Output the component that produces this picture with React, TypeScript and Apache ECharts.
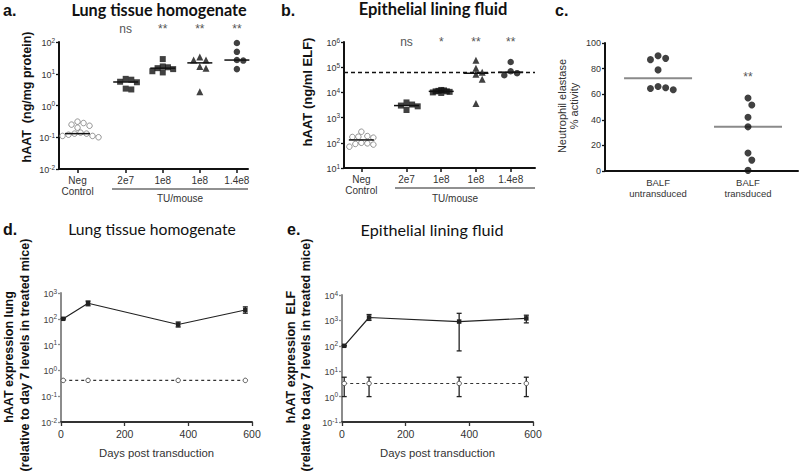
import React, { useEffect, useRef } from "react";
import * as echarts from "echarts";

// ---------------- data ----------------
const groupLabels = ["Neg\nControl", "2e7", "1e8", "1e8", "1.4e8"];

// a. lung tissue homogenate, hAAT (ng/mg protein)
const aNegControl = [0.31, 0.28, 0.25, 0.23, 0.2, 0.14, 0.13, 0.13, 0.12, 0.11, 0.11, 0.1, 0.1];
const a2e7 = [6.9, 6.5, 5.6, 5.4, 3.4, 3.2];
const a1e8Squares = [29, 17, 16, 15, 14, 12, 11];
const a1e8Triangles = [34, 27, 27, 17, 15, 2.7];
const a14e8 = [93, 49, 27, 26, 14];
const aStars = ["ns", "**", "**", "**"];

// b. epithelial lining fluid, hAAT (ng/ml ELF)
const bNegControl = [275, 185, 175, 170, 160, 100, 95, 90, 85, 70];
const b2e7 = [4000, 3300, 3000, 2800, 2000];
const b1e8Squares = [12500, 12000, 11500, 11000, 11000, 10500, 10000, 9500];
const b1e8Triangles = [190000, 90000, 63000, 52000, 33000, 3600];
const b14e8 = [160000, 69000, 58000, 48000];
const bStars = ["ns", "*", "**", "**"];
const bReference = 63000;

// c. neutrophil elastase % activity
const cCategories = ["BALF\nuntransduced", "BALF\ntransduced"];
const cUntransduced = [90, 88, 87, 79, 66, 65, 64.5, 63.5];
const cTransduced = [57, 51.5, 42, 34.5, 14, 8.5, 0.5];
const cStars = ["", "**"];

// d / e. time course
const days = [7, 85, 368, 579];
const dTreated = [100, 400, 60, 220];
const dTreatedLow = [100, 320, 48, 165];
const dTreatedHigh = [100, 490, 75, 290];
const dControl = [0.41, 0.41, 0.41, 0.41];
const eTreated = [100, 1300, 900, 1200];
const eTreatedLow = [100, 1000, 63, 800];
const eTreatedHigh = [100, 1700, 1900, 1600];
const eControl = [3.3, 3.3, 3.3, 3.3];
const eControlLow = [1, 1, 1, 1];
const eControlHigh = [5.8, 5.8, 5.8, 5.8];

// ---------------- layout / style ----------------
const GROUP_X = [0, 1.3, 2.3, 3.3, 4.3];
const C_X = [0, 1];
const FONT = "'Liberation Sans', Arial, sans-serif";
const TITLE_FONT = "Lato, 'Open Sans', sans-serif";

const median = (arr: number[]) => {
  const s = [...arr].sort((a, b) => a - b);
  const n = s.length;
  return n % 2 ? s[(n - 1) / 2] : (s[n / 2 - 1] + s[n / 2]) / 2;
};

function beeswarm(ys: number[], d: number): number[] {
  const order = ys.map((_, i) => i).sort((i, j) => ys[i] - ys[j]);
  const placed: { x: number; y: number }[] = [];
  const out = new Array(ys.length).fill(0);
  order.forEach((i) => {
    const y = ys[i];
    for (let k = 0; k < 60; k++) {
      const off = (k % 2 === 1 ? 1 : -1) * Math.ceil(k / 2) * (d / 2);
      if (placed.every((p) => (p.x - off) ** 2 + (p.y - y) ** 2 >= d * d * 0.9)) {
        out[i] = off + 0;
        placed.push({ x: off, y });
        break;
      }
    }
  });
  return out;
}

const logLabel = (v: number) => `{b|10}{s|${Math.round(Math.log10(v))}}`;
const logRich = (color: string) => ({
  b: { fontSize: 9, fontFamily: FONT, color, lineHeight: 11, verticalAlign: "bottom", padding: [4, 0, 0, 0] },
  s: { fontSize: 6.5, fontFamily: FONT, color, lineHeight: 8, verticalAlign: "top" },
});

const blackAxis = (w = 2) => ({ show: true, onZero: false, lineStyle: { color: "#111", width: w } });

const medianRender = (hw: number, color: string, lw: number) => (params: any, api: any) => {
  const p = api.coord([api.value(0), api.value(1)]);
  return {
    type: "line",
    shape: { x1: p[0] - hw, y1: p[1], x2: p[0] + hw, y2: p[1] },
    style: { stroke: color, lineWidth: lw },
  };
};

const errRender = (params: any, api: any) => {
  const x = api.value(0);
  const lo = api.coord([x, api.value(1)]);
  const hi = api.coord([x, api.value(2)]);
  const cw = 2.5;
  const st = { stroke: "#222", lineWidth: 1.3 };
  return {
    type: "group",
    children: [
      { type: "line", shape: { x1: lo[0], y1: lo[1], x2: hi[0], y2: hi[1] }, style: st },
      { type: "line", shape: { x1: lo[0] - cw, y1: lo[1], x2: lo[0] + cw, y2: lo[1] }, style: st },
      { type: "line", shape: { x1: hi[0] - cw, y1: hi[1], x2: hi[0] + cw, y2: hi[1] }, style: st },
    ],
  };
};

type Def = { id: string; grid: number; x: number; values: number[]; spacing: number };

export default function App() {
  const ref = useRef<HTMLDivElement>(null);

  useEffect(() => {
    const chart = echarts.init(ref.current!, null, { renderer: "svg" });

    const aGroups = [aNegControl, a2e7, a1e8Squares, a1e8Triangles, a14e8];
    const bGroups = [bNegControl, b2e7, b1e8Squares, b1e8Triangles, b14e8];
    const cGroups = [cUntransduced, cTransduced];
    const symbols = ["circle", "rect", "rect", "triangle", "circle"];
    const sizes = [5.5, 6, 6, 7, 6.5];
    const spacings = [
      [6, 5.6, 5.2, 6.2, 6.4],
      [6, 5.6, 2.8, 6.2, 6.4],
    ];

    const defs: Def[] = [];
    const series: any[] = [];

    [aGroups, bGroups].forEach((groups, p) => {
      groups.forEach((vals, g) => {
        const id = `pt-${p}-${g}`;
        defs.push({ id, grid: p, x: GROUP_X[g], values: vals, spacing: spacings[p][g] });
        series.push({
          id,
          type: "scatter",
          xAxisIndex: p,
          yAxisIndex: p,
          symbol: symbols[g],
          symbolSize: sizes[g],
          data: vals.map((v) => [GROUP_X[g], v]),
          itemStyle:
            g === 0
              ? { color: "#fff", borderColor: "#7a7a7a", borderWidth: 1 }
              : { color: "#111" },
          z: 2,
        });
      });
      series.push({
        type: "custom",
        xAxisIndex: p,
        yAxisIndex: p,
        renderItem: medianRender(12.5, "#111", 1.5),
        data: groups.map((vals, g) => [GROUP_X[g], median(vals)]),
        encode: { x: 0, y: 1 },
        z: 3,
        silent: true,
      });
    });

    // dashed reference line in b
    series.push({
      type: "line",
      xAxisIndex: 1,
      yAxisIndex: 1,
      data: [],
      markLine: {
        silent: true,
        symbol: "none",
        label: { show: false },
        lineStyle: { color: "#111", type: [4, 3], width: 1.3 },
        data: [{ yAxis: bReference }],
      },
    });

    cGroups.forEach((vals, g) => {
      const id = `pt-2-${g}`;
      defs.push({ id, grid: 2, x: C_X[g], values: vals, spacing: 7.6 });
      series.push({
        id,
        type: "scatter",
        xAxisIndex: 2,
        yAxisIndex: 2,
        symbol: "circle",
        symbolSize: 7,
        data: vals.map((v) => [C_X[g], v]),
        itemStyle: { color: "#111" },
        z: 2,
      });
    });
    series.push({
      type: "custom",
      xAxisIndex: 2,
      yAxisIndex: 2,
      renderItem: medianRender(34, "#8a8a8a", 2),
      data: cGroups.map((vals, g) => [C_X[g], median(vals)]),
      encode: { x: 0, y: 1 },
      z: 1,
      silent: true,
    });

    const timePanels = [
      { axis: 3, t: dTreated, tl: dTreatedLow, th: dTreatedHigh, c: dControl, cl: null as number[] | null, ch: null as number[] | null },
      { axis: 4, t: eTreated, tl: eTreatedLow, th: eTreatedHigh, c: eControl, cl: eControlLow, ch: eControlHigh },
    ];
    timePanels.forEach((tp) => {
      series.push({
        type: "custom",
        xAxisIndex: tp.axis,
        yAxisIndex: tp.axis,
        renderItem: errRender,
        data: days.map((d, i) => [d, tp.tl[i], tp.th[i]]),
        encode: { x: 0, y: [1, 2] },
        z: 1,
        silent: true,
      });
      if (tp.cl && tp.ch) {
        const cl = tp.cl, ch = tp.ch;
        series.push({
          type: "custom",
          xAxisIndex: tp.axis,
          yAxisIndex: tp.axis,
          renderItem: errRender,
          data: days.map((d, i) => [d, cl[i], ch[i]]),
          encode: { x: 0, y: [1, 2] },
          z: 1,
          silent: true,
        });
      }
      series.push({
        type: "line",
        xAxisIndex: tp.axis,
        yAxisIndex: tp.axis,
        data: days.map((d, i) => [d, tp.t[i]]),
        symbol: "rect",
        symbolSize: 4.5,
        itemStyle: { color: "#222" },
        lineStyle: { color: "#222", width: 1.2 },
        z: 2,
      });
      series.push({
        type: "line",
        xAxisIndex: tp.axis,
        yAxisIndex: tp.axis,
        data: days.map((d, i) => [d, tp.c[i]]),
        symbol: "circle",
        symbolSize: 4.5,
        showAllSymbol: true,
        itemStyle: { color: "#fff", borderColor: "#555", borderWidth: 1 },
        lineStyle: { color: "#333", width: 1.1, type: [3, 3] },
        z: 2,
      });
    });

    const gridBase = { containLabel: false, outerBoundsMode: "none" };
    const grids = [
      { left: 59, top: 42, width: 189, height: 127 },
      { left: 344, top: 42, width: 191, height: 126 },
      { left: 605, top: 43, width: 193, height: 128 },
      { left: 61, top: 293, width: 191, height: 129 },
      { left: 342, top: 295, width: 191, height: 127 },
    ].map((g) => ({ ...gridBase, ...g }));

    const catXAxis = (gi: number, min: number, max: number) => ({
      type: "value",
      gridIndex: gi,
      min,
      max,
      axisLine: blackAxis(2),
      splitLine: { show: false },
      axisTick: { show: true, length: 4, customValues: GROUP_X, lineStyle: { color: "#111", width: 1.5 } },
      axisLabel: {
        customValues: GROUP_X,
        formatter: (v: number) => {
          let best = 0;
          GROUP_X.forEach((gx, i) => {
            if (Math.abs(gx - v) < Math.abs(GROUP_X[best] - v)) best = i;
          });
          return groupLabels[best];
        },
        fontSize: 10,
        fontFamily: FONT,
        color: "#333",
        lineHeight: 11,
        margin: 6,
      },
    });

    const logYAxis = (gi: number, min: number, max: number, lineColor = "#111", labelColor = "#333") => ({
      type: "log",
      logBase: 10,
      gridIndex: gi,
      min,
      max,
      axisLine: { show: true, onZero: false, lineStyle: { color: lineColor, width: 2 } },
      axisTick: { show: true, length: 3, lineStyle: { color: lineColor, width: 1.3 } },
      splitLine: { show: false },
      minorTick: { show: false },
      axisLabel: { formatter: logLabel, rich: logRich(labelColor), margin: 4 },
    });

    const timeXAxis = (gi: number) => ({
      type: "value",
      gridIndex: gi,
      min: 0,
      max: 600,
      interval: 200,
      axisLine: { show: true, onZero: false, lineStyle: { color: "#333", width: 2 } },
      axisTick: { show: true, length: 4, lineStyle: { color: "#333", width: 1.3 } },
      splitLine: { show: false },
      axisLabel: { fontSize: 10.5, fontFamily: FONT, color: "#333", margin: 6 },
      name: "Days post transduction",
      nameLocation: "middle",
      nameGap: 25,
      nameTextStyle: { fontSize: 11.3, fontFamily: FONT, color: "#333" },
    });

    const option: any = {
      animation: false,
      backgroundColor: "#fff",
      grid: grids,
      xAxis: [
        catXAxis(0, -0.5, 4.6),
        catXAxis(1, -0.5, 5.0),
        {
          type: "value",
          gridIndex: 2,
          min: -0.59,
          max: 1.556,
          axisLine: blackAxis(2),
          splitLine: { show: false },
          axisTick: { show: false },
          axisLabel: {
            customValues: C_X,
            formatter: (v: number) => cCategories[v < 0.5 ? 0 : 1],
            fontSize: 9.5,
            fontFamily: FONT,
            color: "#333",
            lineHeight: 11,
            margin: 6,
          },
        },
        timeXAxis(3),
        timeXAxis(4),
      ],
      yAxis: [
        logYAxis(0, 0.01, 100),
        logYAxis(1, 10, 1000000),
        {
          type: "value",
          gridIndex: 2,
          min: 0,
          max: 100,
          interval: 20,
          axisLine: blackAxis(2),
          axisTick: { show: true, length: 3, lineStyle: { color: "#111", width: 1.3 } },
          splitLine: { show: false },
          axisLabel: { fontSize: 9, fontFamily: FONT, color: "#333", margin: 4 },
        },
        logYAxis(3, 0.01, 1000, "#8c8c8c", "#444"),
        logYAxis(4, 0.1, 10000, "#8c8c8c", "#444"),
      ],
      series,
    };

    chart.setOption(option);

    // second pass: spread points horizontally (beeswarm) using the library's pixel scales
    const updates = defs.map((def) => {
      const px = (x: number, v: number) => chart.convertToPixel({ gridIndex: def.grid } as any, [x, v]) as number[];
      const ys = def.values.map((v) => px(def.x, v)[1]);
      const unit = px(def.x + 1, def.values[0])[0] - px(def.x, def.values[0])[0];
      const offs = beeswarm(ys, def.spacing);
      return { id: def.id, data: def.values.map((v, i) => [def.x + offs[i] / unit, v]) };
    });

    const gx = (grid: number, x: number) => (chart.convertToPixel({ gridIndex: grid } as any, [x, grid === 2 ? 50 : 100]) as number[])[0];

    const txt = (x: number, y: number, text: string, size: number, opts: any = {}) => ({
      type: "text",
      x,
      y,
      rotation: opts.rotation || 0,
      silent: true,
      style: {
        text,
        fontSize: size,
        fontWeight: opts.weight || "normal",
        fontFamily: opts.font || FONT,
        fill: opts.color || "#111",
        align: opts.align || "center",
        verticalAlign: "middle",
      },
    });
    const V = Math.PI / 2;

    const graphic: any[] = [
      // a
      txt(3, 10, "a.", 16, { weight: "bold", align: "left" }),
      txt(159, 9, "Lung tissue homogenate", 16.2, { weight: "bold", font: TITLE_FONT }),
      txt(27, 97, "hAAT  (ng/mg protein)", 12.5, { weight: "bold", rotation: V }),
      ...aStars.map((s, i) => txt(gx(0, GROUP_X[i + 1]), 29, s, 12, { color: "#555" })),
      { type: "line", silent: true, shape: { x1: 112, y1: 189, x2: 248, y2: 189 }, style: { stroke: "#222", lineWidth: 1 } },
      txt(180, 198, "TU/mouse", 10, { color: "#333" }),
      // b
      txt(281, 10, "b.", 16, { weight: "bold", align: "left" }),
      txt(433, 9, "Epithelial lining fluid", 16.5, { weight: "bold", font: TITLE_FONT }),
      txt(307, 92, "hAAT (ng/ml ELF)", 13, { weight: "bold", rotation: V }),
      ...bStars.map((s, i) => txt(gx(1, GROUP_X[i + 1]), 42, s, 12, { color: "#555" })),
      { type: "line", silent: true, shape: { x1: 395, y1: 188, x2: 535, y2: 188 }, style: { stroke: "#222", lineWidth: 1 } },
      txt(455, 198, "TU/mouse", 10, { color: "#333" }),
      // c
      txt(555, 10, "c.", 16, { weight: "bold", align: "left" }),
      txt(562, 106, "Neutrophil elastase", 11, { rotation: V, color: "#333" }),
      txt(574, 106, "% activity", 11, { rotation: V, color: "#333" }),
      ...cStars.map((s, i) => txt(gx(2, C_X[i]), 77, s, 12, { color: "#555" })),
      // d
      txt(3, 229, "d.", 16, { weight: "bold", align: "left" }),
      txt(152, 229, "Lung tissue homogenate", 15.7, { font: TITLE_FONT, color: "#111" }),
      txt(9, 357, "hAAT expression lung", 12.5, { weight: "bold", rotation: V }),
      txt(25, 355, "(relative to day 7 levels in treated mice)", 12.5, { weight: "bold", rotation: V }),
      // e
      txt(287, 229, "e.", 16, { weight: "bold", align: "left" }),
      txt(432, 229, "Epithelial lining fluid", 16.2, { font: TITLE_FONT, color: "#111" }),
      txt(291, 357, "hAAT expression  ELF", 12.5, { weight: "bold", rotation: V }),
      txt(306, 355, "(relative to day 7 levels in treated mice)", 12.5, { weight: "bold", rotation: V }),
    ];

    chart.setOption({ series: updates, graphic });

    return () => chart.dispose();
  }, []);

  return <div ref={ref} style={{ position: "absolute", left: 0, top: 0, width: 800, height: 472, background: "#fff" }} />;
}
